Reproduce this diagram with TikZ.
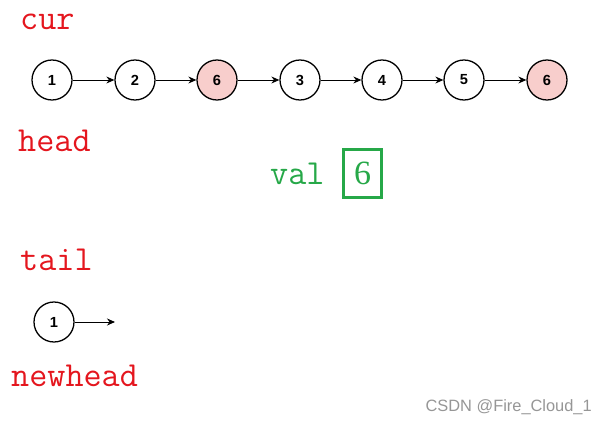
\documentclass[tikz,border=0pt]{standalone}
\usepackage{fontspec}
\setmainfont{Liberation Serif}
\setsansfont{Liberation Sans}
\usetikzlibrary{arrows.meta}
\definecolor{ptrred}{RGB}{228,22,30}
\definecolor{valgreen}{RGB}{38,168,72}
\definecolor{hitpink}{RGB}{248,206,204}
\definecolor{markgray}{RGB}{150,150,150}
\begin{document}
\begin{tikzpicture}[x=0.03cm,y=-0.03cm,
    listnode/.style={draw, circle, line width=1.1pt, minimum size=1.2cm, inner sep=0pt, font=\sffamily\bfseries\fontsize{12.5}{12.5}\selectfont},
    hitnode/.style={listnode, fill=hitpink},
    ptrlabel/.style={text=ptrred, font=\ttfamily\fontsize{30}{30}\selectfont, inner sep=0pt},
    link/.style={-{Stealth[length=2.4mm,width=2.1mm]}, line width=0.8pt}]
  \useasboundingbox (0,0) rectangle (607,425);
  % the list
  \node[listnode] (n1) at (52,80) {1};
  \node[listnode] (n2) at (135,80) {2};
  \node[hitnode] (n3) at (217,80) {6};
  \node[listnode] (n4) at (300,80) {3};
  \node[listnode] (n5) at (382,80) {4};
  \node[listnode] (n6) at (464,80) {5};
  \node[hitnode] (n7) at (547,80) {6};
  \foreach \a/\b in {n1/n2,n2/n3,n3/n4,n4/n5,n5/n6,n6/n7}
    \draw[link] (\a) -- (\b);
  % pointers
  \node[ptrlabel, anchor=west] (cur) at (20,22) {cur};
  \node[ptrlabel, anchor=west] (head) at (18,141) {head};
  \node[ptrlabel, anchor=west] (tail) at (20,260) {tail};
  \node[ptrlabel, anchor=west] (newhead) at (11,376) {newhead};
  % value to remove
  \node[ptrlabel, text=valgreen, anchor=west] (val) at (270,174) {val};
  \node[draw=valgreen, line width=2.6pt, minimum width=1.15cm, minimum height=1.45cm, inner sep=0pt, text=valgreen, font=\fontsize{29}{29}\selectfont] (target) at (362.5,173.5) {6};
  % new list
  \node[listnode] (d1) at (54,322) {1};
  \coordinate (dend) at (115,322);
  \draw[link] (d1) -- (dend);
  \node[text=markgray, font=\sffamily\fontsize{14}{14}\selectfont, anchor=east, inner sep=0pt] (mark) at (592,407) {CSDN @Fire\_Cloud\_1};
\end{tikzpicture}
\end{document}
